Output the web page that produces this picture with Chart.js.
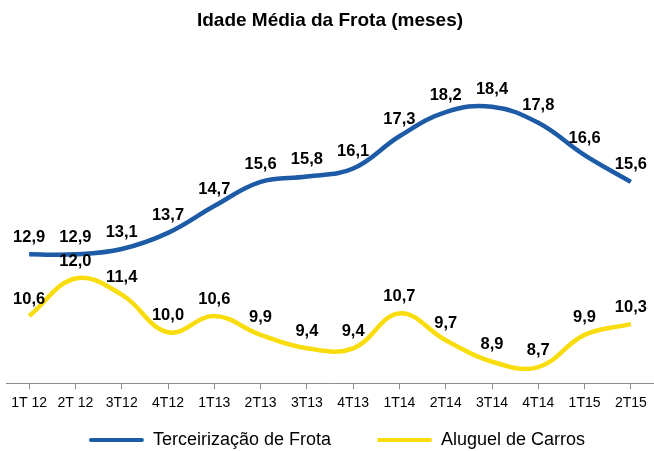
<!DOCTYPE html>
<html>
<head>
<meta charset="utf-8">
<script src="https://cdn.jsdelivr.net/npm/chart.js@4.4.1/dist/chart.umd.min.js"></script>
<style>
  html, body { margin: 0; padding: 0; background: #fff; }
  #wrap { width: 654px; height: 451px; }
</style>
</head>
<body>
<div id="wrap"><canvas id="frota"></canvas></div>
<script>
// quarters along the x-axis
const quarters = ["1T 12", "2T 12", "3T12", "4T12", "1T13", "2T13", "3T13", "4T13", "1T14", "2T14", "3T14", "4T14", "1T15", "2T15"];
// average fleet age in months
const terceirizacao = [12.9, 12.9, 13.1, 13.7, 14.7, 15.6, 15.8, 16.1, 17.3, 18.2, 18.4, 17.8, 16.6, 15.6];
const aluguel = [10.6, 12.0, 11.4, 10.0, 10.6, 9.9, 9.4, 9.4, 10.7, 9.7, 8.9, 8.7, 9.9, 10.3];

const BLUE = "#1d5ba6";
const YELLOW = "#f9dc0c";
const FONT = "Liberation Sans, Arial, sans-serif";

// writes each value above its point, with a decimal comma
const valueLabels = {
  id: "valueLabels",
  afterDatasetsDraw(chart) {
    const ctx = chart.ctx;
    ctx.save();
    ctx.font = "bold 16.5px " + FONT;
    ctx.fillStyle = "#000";
    ctx.textAlign = "center";
    ctx.textBaseline = "middle";
    chart.data.datasets.forEach((ds, i) => {
      chart.getDatasetMeta(i).data.forEach((pt, j) => {
        const txt = ds.data[j].toFixed(1).replace(".", ",");
        ctx.fillText(txt, pt.x, pt.y - 17);
      });
    });
    ctx.restore();
  }
};

// the legend keeps wide gaps between its items but sits close under the axis labels
const legendNudge = {
  id: "legendNudge",
  afterLayout(chart) {
    const lg = chart.legend;
    const dy = (chart.scales.x.bottom - 33) - lg.top;
    lg.top += dy;
    lg.bottom += dy;
    lg.left += 7;
    lg.right += 7;
  }
};

new Chart(document.getElementById("frota"), {
  type: "line",
  data: {
    labels: quarters,
    datasets: [
      {
        label: "Terceirização de Frota",
        data: terceirizacao,
        borderColor: BLUE,
        backgroundColor: BLUE,
        borderWidth: 4.5,
        pointRadius: 0,
        tension: 0.4,
        fill: false,
      },
      {
        label: "Aluguel de Carros",
        data: aluguel,
        borderColor: YELLOW,
        backgroundColor: YELLOW,
        borderWidth: 4.5,
        pointRadius: 0,
        tension: 0.4,
        fill: false,
      },
    ],
  },
  options: {
    responsive: true,
    maintainAspectRatio: false,
    animation: false,
    layout: { padding: { left: 6, right: 0, top: 0, bottom: -41 } },
    plugins: {
      title: {
        display: true,
        text: "Idade Média da Frota (meses)",
        color: "#000",
        font: { family: FONT, size: 19, weight: "bold" },
        padding: { top: 9, bottom: 32 },
      },
      legend: {
        position: "bottom",
        labels: {
          color: "#000",
          font: { family: FONT, size: 18 },
          boxWidth: 55,
          boxHeight: 4,
          useBorderRadius: true,
          borderRadius: 2,
          padding: 46,
          // plain filled bars, no outline stroke
          generateLabels(chart) {
            const items = Chart.defaults.plugins.legend.labels.generateLabels(chart);
            items.forEach((it) => { it.lineWidth = 0; });
            return items;
          },
        },
      },
      tooltip: { enabled: false },
    },
    scales: {
      x: {
        offset: true,
        grid: {
          drawOnChartArea: false,
          drawTicks: true,
          tickLength: 6,
          color: "#8c8c8c",
        },
        border: { color: "#8c8c8c", width: 1 },
        ticks: {
          color: "#000",
          font: { family: FONT, size: 14 },
          maxRotation: 0,
          autoSkip: false,
          padding: 6,
        },
      },
      y: {
        display: false,
        min: 8.1,
        max: 20,
      },
    },
  },
  plugins: [valueLabels, legendNudge],
});
</script>
</body>
</html>
